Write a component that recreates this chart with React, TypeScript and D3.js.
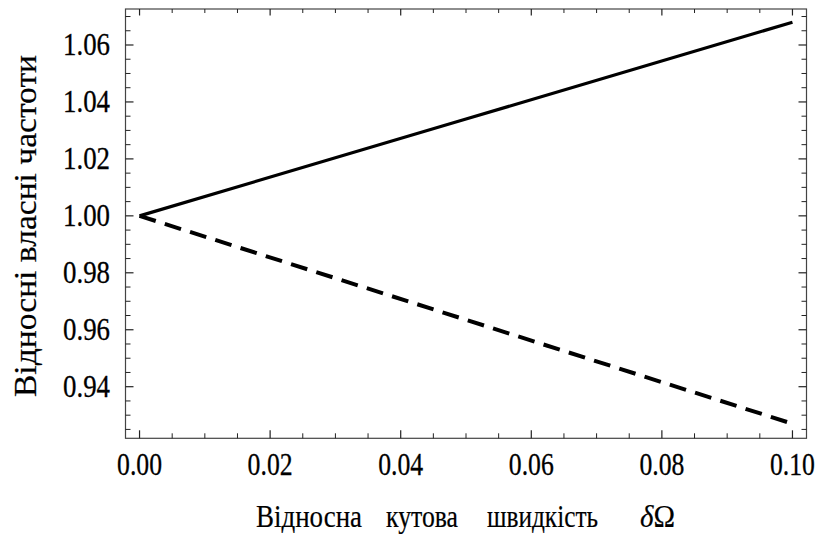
import React from "react";
import * as d3 from "d3";

const xTicksMajor = [0, 0.02, 0.04, 0.06, 0.08, 0.1];
const xTickLabels = ["0.00", "0.02", "0.04", "0.06", "0.08", "0.10"];
const yTicksMajor = [0.94, 0.96, 0.98, 1.0, 1.02, 1.04, 1.06];
const yTickLabels = ["0.94", "0.96", "0.98", "1.00", "1.02", "1.04", "1.06"];

const omega = [0, 0.05, 0.1];
const upperFreq = [1.0, 1.034, 1.068];
const lowerFreq = [1.0, 0.9635, 0.927];

const xTitleWords = ["Відносна", "кутова", "швидкість", "δΩ"];
const xTitleOffsets = [0, 130, 231, 384];
const xTitleWidths = [106, 72, 111, 35];
const yTitle = "Відносні власні частоти";

const W = 817;
const H = 535;
const L = 125.5, R = 806.5, T = 9, B = 438.3;

export default function App() {
  const x = d3.scaleLinear().domain([-0.00215, 0.10215]).range([L, R]);
  const y = d3.scaleLinear().domain([0.92188, 1.07264]).range([B, T]);

  const xMinor = d3.range(0, 0.1001, 0.005).filter((v) => !xTicksMajor.some((m) => Math.abs(m - v) < 1e-9));
  const yMinor = d3.range(0.925, 1.0726, 0.005).filter((v) => !yTicksMajor.some((m) => Math.abs(m - v) < 1e-9));

  const line = d3
    .line<number>()
    .x((_, i) => x(omega[i]))
    .y((d) => y(d));

  const frameColor = "#444";
  const fontStyle = { fontFamily: "Liberation Serif" };
  const majorLen = 8;
  const minorLen = 5;

  return (
    <svg width={W} height={H} style={{ position: "absolute", left: 0, top: 0 }}>
      <rect x={0} y={0} width={W} height={H} fill="white" />
      <rect x={L} y={T} width={R - L} height={B - T} fill="none" stroke={frameColor} strokeWidth={1.2} />
      {xTicksMajor.map((v, i) => (
        <g key={"xm" + i}>
          <line x1={x(v)} x2={x(v)} y1={B} y2={B - majorLen} stroke="#222" strokeWidth={1.2} />
          <line x1={x(v)} x2={x(v)} y1={T} y2={T + majorLen - 1.5} stroke="#222" strokeWidth={1.2} />
          <text
            x={x(v)}
            y={474.5}
            textAnchor="middle"
            style={fontStyle}
            fontSize={31}
            textLength={45}
            lengthAdjust="spacingAndGlyphs"
            fill="#000"
            stroke="#000"
            strokeWidth={0.3}
          >
            {xTickLabels[i]}
          </text>
        </g>
      ))}
      {xMinor.map((v, i) => (
        <g key={"xn" + i}>
          <line x1={x(v)} x2={x(v)} y1={B} y2={B - minorLen} stroke="#222" strokeWidth={1} />
          <line x1={x(v)} x2={x(v)} y1={T} y2={T + minorLen - 1} stroke="#222" strokeWidth={1} />
        </g>
      ))}
      {yTicksMajor.map((v, i) => (
        <g key={"ym" + i}>
          <line x1={L} x2={L + majorLen} y1={y(v)} y2={y(v)} stroke="#222" strokeWidth={1.2} />
          <line x1={R} x2={R - majorLen} y1={y(v)} y2={y(v)} stroke="#222" strokeWidth={1.2} />
          <text
            x={110}
            y={y(v) + 10}
            textAnchor="end"
            style={fontStyle}
            fontSize={31}
            textLength={47}
            lengthAdjust="spacingAndGlyphs"
            fill="#000"
            stroke="#000"
            strokeWidth={0.3}
          >
            {yTickLabels[i]}
          </text>
        </g>
      ))}
      {yMinor.map((v, i) => (
        <g key={"yn" + i}>
          <line x1={L} x2={L + minorLen} y1={y(v)} y2={y(v)} stroke="#222" strokeWidth={1} />
          <line x1={R} x2={R - minorLen} y1={y(v)} y2={y(v)} stroke="#222" strokeWidth={1} />
        </g>
      ))}
      <path d={line(upperFreq) || ""} fill="none" stroke="#000" strokeWidth={3.2} />
      <path
        d={line(lowerFreq) || ""}
        fill="none"
        stroke="#000"
        strokeWidth={4}
        strokeDasharray="17 9.5"
      />
      {xTitleWords.map((w, i) => (
        <text
          key={"xt" + i}
          x={256 + xTitleOffsets[i]}
          y={527}
          style={fontStyle}
          fontSize={31}
          textLength={xTitleWidths[i]}
          lengthAdjust="spacingAndGlyphs"
          fill="#000"
          stroke="#000"
          strokeWidth={0.2}
        >
          {i === 3 ? (
            <>
              <tspan fontStyle="italic">δ</tspan>
              <tspan>Ω</tspan>
            </>
          ) : (
            w
          )}
        </text>
      ))}
      <text
        transform={`translate(36, 226) rotate(-90)`}
        textAnchor="middle"
        style={fontStyle}
        fontSize={32}
        textLength={342}
        lengthAdjust="spacingAndGlyphs"
        fill="#000"
        stroke="#000"
        strokeWidth={0.2}
      >
        {yTitle}
      </text>
    </svg>
  );
}
